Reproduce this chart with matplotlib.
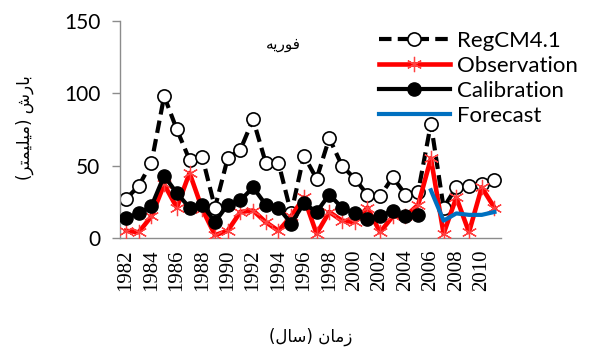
import matplotlib
matplotlib.use("Agg")
import matplotlib.pyplot as plt

years = list(range(1982, 2012))
regcm = [27, 36, 52, 98, 75, 54, 56, 21, 55, 61, 82, 52, 52, 17, 57,
         41, 69, 50, 41, 30, 29, 42, 30, 32, 79, 21, 35, 36, 37, 40]
observation = [5, 4, 15, 37, 21, 45, 20, 2, 5, 18, 19, 11, 5, 15, 28,
               3, 18, 12, 11, 21, 4, 15, 15, 23, 55, 3, 28, 4, 35, 21]
calib_years = list(range(1982, 2006))
calibration = [14, 17, 22, 43, 31, 21, 23, 11, 23, 26, 35, 23, 21, 10,
               24, 18, 30, 21, 17, 13, 15, 19, 15, 16]
fore_years = list(range(2006, 2012))
forecast = [33, 12, 17, 16, 16, 18]

# persian text, pre-shaped in visual order (matplotlib has no shaping)
title_txt = "\uFEEA\uFBFE\uFEAD\uFEEE\uFED3"  # فوریه
ylabel_txt = "(\uFEAE\uFE98\uFEE4\uFBFF\uFEE0\uFBFF\uFEE3) \uFEB5\uFEAD\uFE8E\uFE91"  # بارش (میلیمتر)
xlabel_txt = "(\uFEDD\uFE8E\uFEB3) \uFEE5\uFE8E\uFEE3\uFEAF"  # زمان (سال)

fig = plt.figure(figsize=(5.89, 3.49), dpi=100)
ax = fig.add_axes([0.2032, 0.318, 0.647, 0.622])

ax.plot(years, regcm, color='black', lw=3, dashes=(3, 1.5),
        marker='o', ms=9.5, mfc='white', mec='black', mew=1.2,
        label='RegCM4.1', zorder=2)
ax.plot(years, observation, color='red', lw=3.3,
        marker=(6, 2, 0), ms=11, mec='#ff4040', mew=0.9,
        label='Observation', zorder=3)
ax.plot(calib_years, calibration, color='black', lw=3,
        marker='o', ms=9.5, mfc='black', mec='black',
        label='Calibration', zorder=4)
ax.plot(fore_years, forecast, color='#0070C0', lw=3,
        label='Forecast', zorder=5)

ax.set_xlim(1981.5, 2011.5)
ax.set_ylim(0, 150)
ax.set_yticks([0, 50, 100, 150])
ax.set_xticks(list(range(1982, 2012, 2)))
ax.set_xticklabels([str(y) for y in range(1982, 2012, 2)], rotation=90,
                   family='Liberation Serif', fontsize=15)
for t in ax.get_yticklabels():
    t.set_family('Lato')
    t.set_fontsize(15)

for s in ['top', 'right']:
    ax.spines[s].set_visible(False)
for s in ['left', 'bottom']:
    ax.spines[s].set_color('#8c8c8c')
    ax.spines[s].set_linewidth(1)
ax.tick_params(axis='y', length=6, width=1, color='#8c8c8c', pad=8)
ax.tick_params(axis='x', length=0, pad=8)

leg = ax.legend(loc='upper left', bbox_to_anchor=(370 / 589, 1 - 22 / 349),
                bbox_transform=fig.transFigure, frameon=False,
                prop={'family': 'Lato', 'size': 16}, handlelength=3.2,
                handletextpad=0.3, labelspacing=0.22, borderaxespad=0)
leg.set_zorder(10)

fig.text(283 / 589, 1 - 45 / 349, title_txt, ha='center', va='center',
         family='DejaVu Sans', fontsize=11)
fig.text(25 / 589, 1 - 128 / 349, ylabel_txt, ha='center', va='center',
         rotation=90, family='DejaVu Sans', fontsize=12)
fig.text(311 / 589, 1 - 337 / 349, xlabel_txt, ha='center', va='center',
         family='DejaVu Sans', fontsize=12)

fig.savefig('out.png', dpi=100)
